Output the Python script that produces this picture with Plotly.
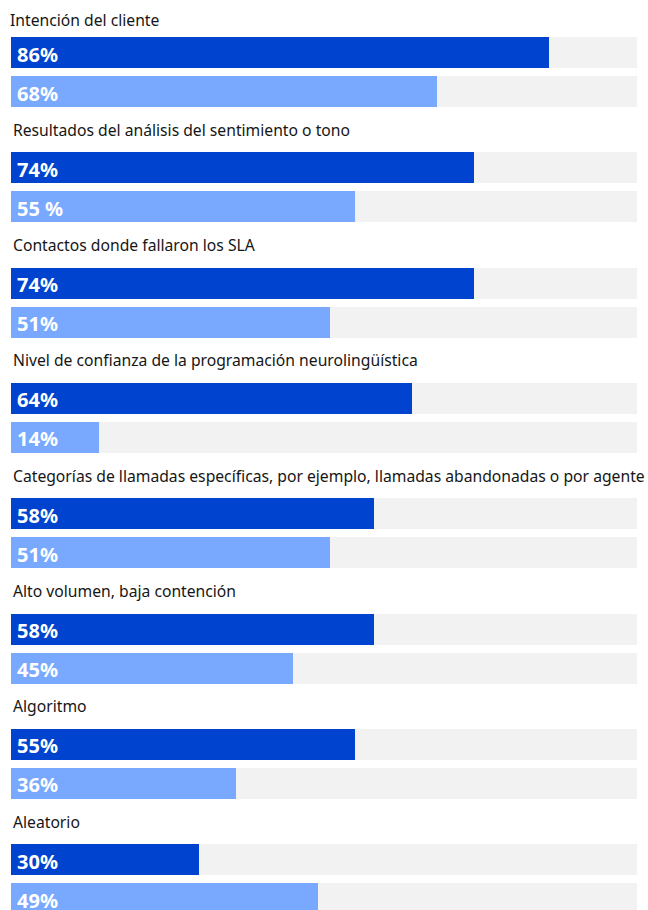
import plotly.graph_objects as go

categories = [
    "Intención del cliente",
    "Resultados del análisis del sentimiento o tono",
    "Contactos donde fallaron los SLA",
    "Nivel de confianza de la programación neurolingüística",
    "Categorías de llamadas específicas, por ejemplo, llamadas abandonadas o por agente",
    "Alto volumen, baja contención",
    "Algoritmo",
    "Aleatorio",
]
dark_values = [86, 74, 74, 64, 58, 58, 55, 30]
light_values = [68, 55, 51, 14, 51, 45, 36, 49]
dark_labels = ["86%", "74%", "74%", "64%", "58%", "58%", "55%", "30%"]
light_labels = ["68%", "55 %", "51%", "14%", "51%", "45%", "36%", "49%"]

W, H = 648, 910
X0, X100 = 11, 637
px_per = (X100 - X0) / 100.0
xr = [-X0 / px_per, (W - X0) / px_per]

DARK = "#0043ce"
LIGHT = "#78a9ff"
TRACK = "#f2f2f2"

bar_h = 31
pitch = 115.3
first_top = 37
gap = 39

n = len(categories)
dark_y = [first_top + pitch * k + bar_h / 2 for k in range(n)]
light_y = [y + gap for y in dark_y]

fig = go.Figure()
fig.add_trace(go.Bar(x=[100] * n, y=dark_y, orientation="h", width=bar_h,
                     marker=dict(color=TRACK, line=dict(width=0)), hoverinfo="skip"))
fig.add_trace(go.Bar(x=[100] * n, y=light_y, orientation="h", width=bar_h,
                     marker=dict(color=TRACK, line=dict(width=0)), hoverinfo="skip"))
fig.add_trace(go.Bar(x=dark_values, y=dark_y, orientation="h", width=bar_h,
                     marker=dict(color=DARK, line=dict(width=0))))
fig.add_trace(go.Bar(x=light_values, y=light_y, orientation="h", width=bar_h,
                     marker=dict(color=LIGHT, line=dict(width=0))))

FONT = "Noto Sans"
anns = []
for k in range(n):
    top = first_top + pitch * k
    ty = 19.5 if k == 0 else top - 22.5
    tx = 7.5 if k == 0 else 11
    anns.append(dict(x=tx / W, xref="paper", y=ty, yref="y", text=categories[k],
                     showarrow=False, xanchor="left", yanchor="middle",
                     font=dict(family=FONT, size=15.7, color="#161616")))
    for yy, lab in ((dark_y[k], dark_labels[k]), (light_y[k], light_labels[k])):
        anns.append(dict(x=0, xref="x", y=yy + 1.5, yref="y", text="<b>" + lab + "</b>",
                         showarrow=False, xanchor="left", yanchor="middle", xshift=4,
                         font=dict(family=FONT, size=20, color="#ffffff")))

fig.update_layout(
    width=W, height=H, margin=dict(l=0, r=0, t=0, b=0),
    paper_bgcolor="white", plot_bgcolor="white",
    barmode="overlay", showlegend=False, bargap=0,
    xaxis=dict(range=xr, visible=False, fixedrange=True),
    yaxis=dict(range=[H, 0], visible=False, fixedrange=True),
    annotations=anns,
)
fig.write_html("out.html", config={"displayModeBar": False})
